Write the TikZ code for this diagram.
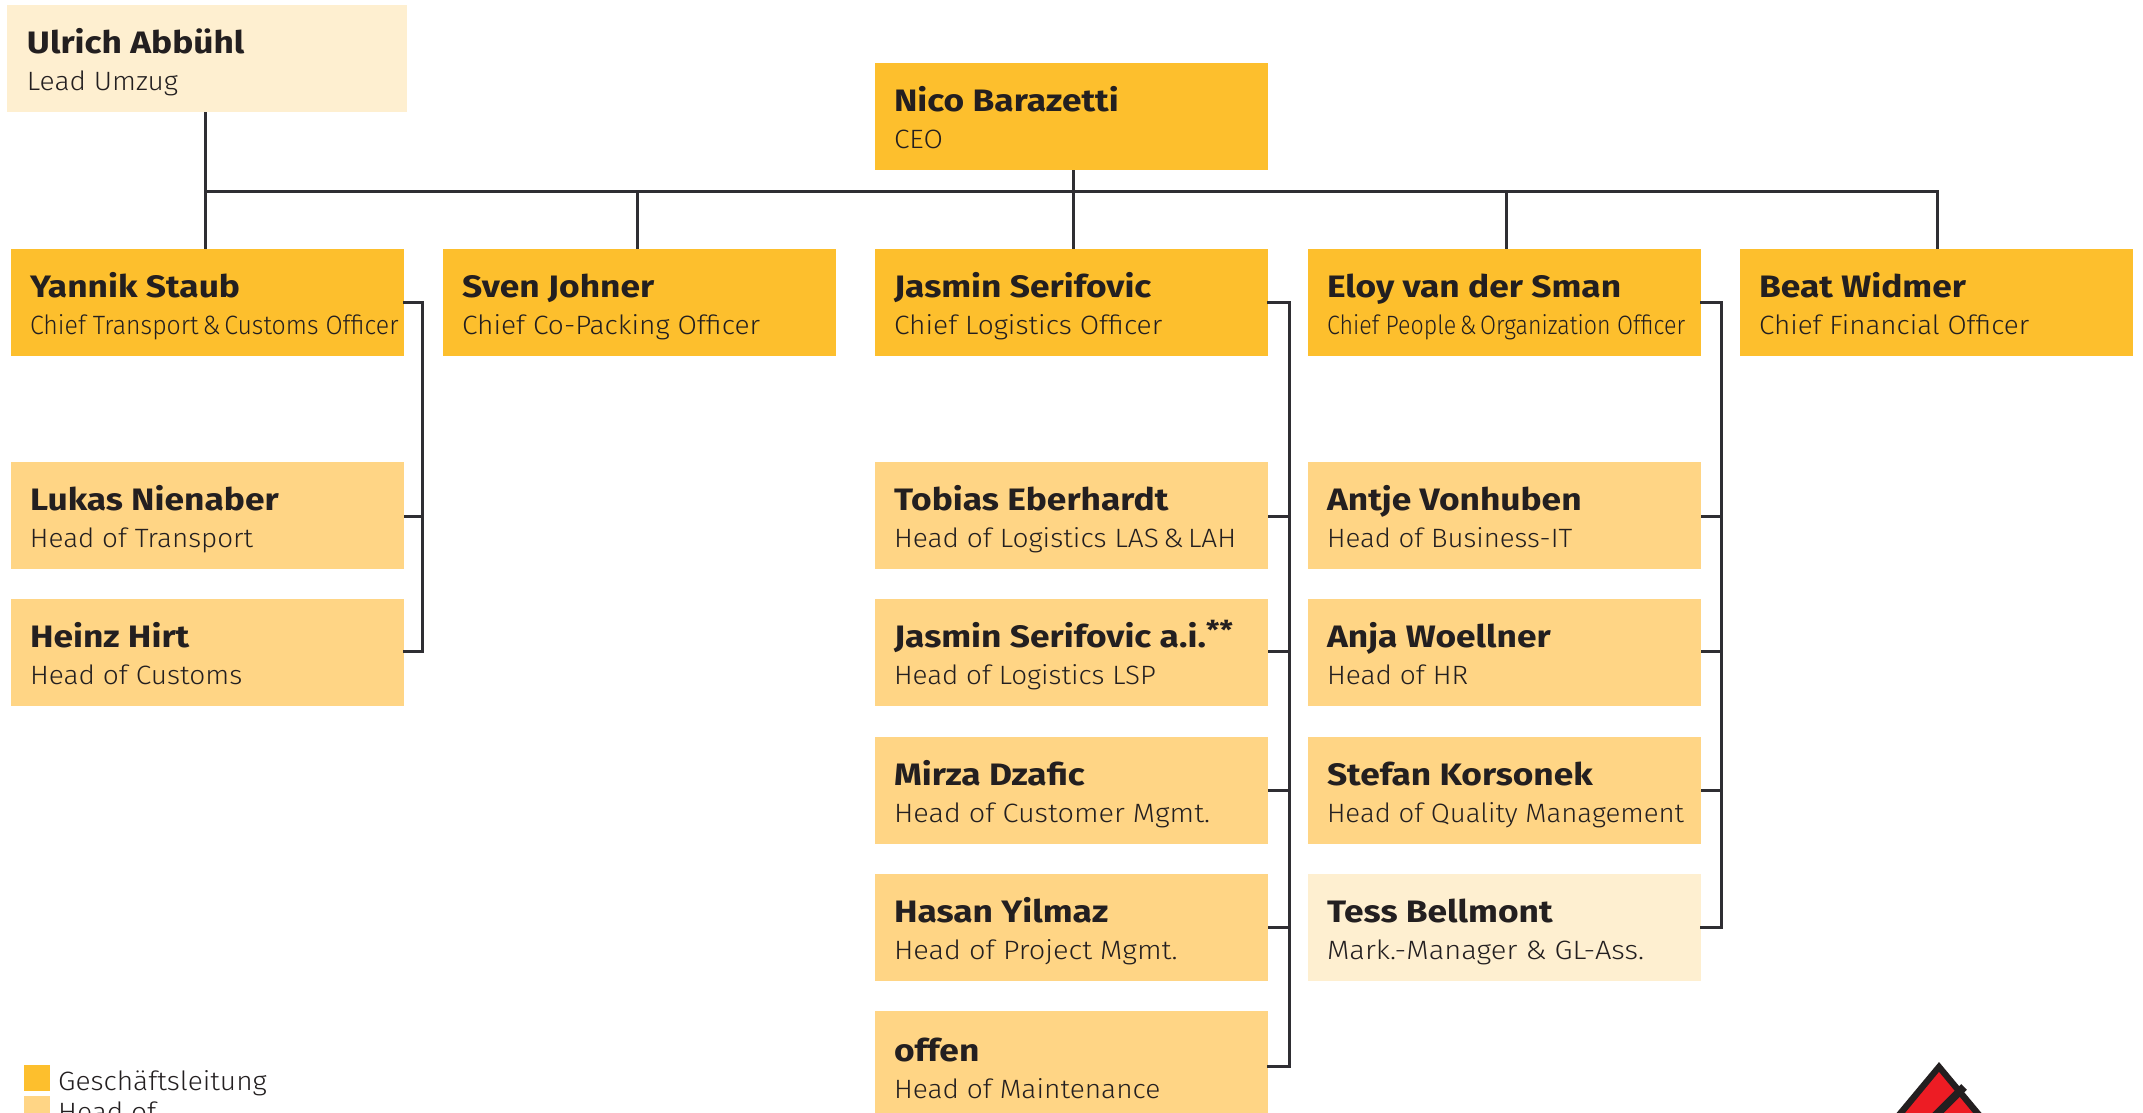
\documentclass[tikz,border=0pt]{standalone}
\usepackage{fontspec}
\setmainfont{Fira Sans Light}[FakeStretch=1.06,BoldFont={Fira Sans Bold},BoldFeatures={FakeStretch=1.14}]
\definecolor{gl}{HTML}{FDBF2D}
\definecolor{hd}{HTML}{FFD585}
\definecolor{pale}{HTML}{FEEFD0}
\definecolor{ink}{HTML}{231F20}
\definecolor{wire}{HTML}{2F2E33}
\definecolor{logored}{HTML}{ED1C24}
\newcommand{\namefont}{\fontsize{31}{31}\selectfont\bfseries}
\newcommand{\subfont}{\fontsize{26.5}{26.5}\selectfont}
\newcommand{\pcard}[4][19]{\vbox to 107pt{\hsize=#2pt\parindent=0pt\offinterlineskip
  \hbox to #2pt{\hfil}\kern48pt\hbox{\kern#1pt\smash{\namefont #3}}\kern37pt\hbox{\kern#1pt\smash{\subfont #4}}\vss}}
\newcommand{\sx}[2]{\scalebox{#1}[1]{#2}}
\tikzset{
  card/.style={inner sep=0pt,outer sep=0pt,anchor=north west,text=ink},
  glbox/.style={card,fill=gl},
  hdbox/.style={card,fill=hd},
  palebox/.style={card,fill=pale},
  wireline/.style={draw=wire,line width=3pt},
  swatch/.style={inner sep=0pt,outer sep=0pt,minimum size=26pt,anchor=north west},
  legendtext/.style={inner sep=0pt,anchor=base west,text=ink,font=\fontsize{26.5}{26.5}\selectfont}
}
\begin{document}
\begin{tikzpicture}[x=1pt,y=-1pt]
\clip (0,0) rectangle (2143,1112);
\fill[white] (0,0) rectangle (2143,1112);
% top cards
\node[palebox] (ulrich) at (7,5) {\pcard[20]{400}{Ulrich Abbühl}{Lead Umzug}};
\node[glbox] (ceo) at (875,63) {\pcard{393}{Nico Barazetti}{CEO}};
\node[glbox] (yannik) at (11,249) {\pcard{393}{Yannik Staub}{\sx{0.885}{Chief Transport\,\&\,Customs Officer}}};
\node[glbox] (sven) at (443,249) {\pcard{393}{Sven Johner}{Chief Co-Packing Officer}};
\node[glbox] (jasmin) at (875,249) {\pcard{393}{Jasmin Serifovic}{Chief Logistics Officer}};
\node[glbox] (eloy) at (1308,249) {\pcard{393}{Eloy van der Sman}{\sx{0.825}{Chief People\,\&\,Organization Officer}}};
\node[glbox] (beat) at (1740,249) {\pcard{393}{Beat Widmer}{\sx{0.99}{Chief Financial Officer}}};
% heads
\node[hdbox] (lukas) at (11,462) {\pcard{393}{Lukas Nienaber}{\sx{0.99}{Head of Transport}}};
\node[hdbox] (heinz) at (11,599) {\pcard{393}{Heinz Hirt}{Head of Customs}};
\node[hdbox] (tobias) at (875,462) {\pcard{393}{Tobias Eberhardt}{Head of Logistics LAS\,\&\,LAH}};
\node[hdbox] (jasminai) at (875,599) {\pcard{393}{Jasmin Serifovic a.i.\raisebox{8pt}{\fontsize{26}{26}\selectfont **}}{\sx{0.99}{Head of Logistics LSP}}};
\node[hdbox] (mirza) at (875,737) {\pcard{393}{Mirza Dzafic}{\sx{1.027}{Head of Customer Mgmt.}}};
\node[hdbox] (hasan) at (875,874) {\pcard{393}{Hasan Yilmaz}{\sx{1.03}{Head of Project Mgmt.}}};
\node[hdbox] (offen) at (875,1011) {\pcard{393}{\raisebox{-2pt}{offen}}{\raisebox{-2pt}{Head of Maintenance}}};
\node[hdbox] (antje) at (1308,462) {\pcard{393}{Antje Vonhuben}{\sx{0.983}{Head of Business-IT}}};
\node[hdbox] (anja) at (1308,599) {\pcard{393}{Anja Woellner}{Head of HR}};
\node[hdbox] (stefan) at (1308,737) {\pcard{393}{Stefan Korsonek}{\sx{0.981}{Head of Quality Management}}};
\node[palebox] (tess) at (1308,874) {\pcard{393}{Tess Bellmont}{\sx{1.036}{Mark.-Manager \& GL-Ass.}}};
% top bus
\coordinate (busA) at (205.5,191);
\coordinate (busB) at (637,191);
\coordinate (busC) at (1073,191);
\coordinate (busD) at (1506,191);
\coordinate (busE) at (1937,191);
\draw[wireline] (busA |- ulrich.south) -- (busA |- yannik.north);
\draw[wireline] (busA) -- (busE) -- (busE |- beat.north);
\draw[wireline] (busB) -- (busB |- sven.north);
\draw[wireline] (busC |- ceo.south) -- (busC |- jasmin.north);
\draw[wireline] (busD) -- (busD |- eloy.north);
% side buses
\coordinate (sideY) at (422,0);
\coordinate (sideJ) at (1289,0);
\coordinate (sideE) at (1721,0);
\draw[wireline,line cap=rect] ([yshift=1.5pt]heinz.east) -- ([yshift=1.5pt]heinz.east -| sideY) -- (yannik.east -| sideY) -- (yannik.east);
\draw[wireline] ([yshift=-1.2pt]lukas.east) -- ([yshift=-1.2pt]lukas.east -| sideY);
\draw[wireline,line cap=rect] ([yshift=-1.5pt]offen.east) -- ([yshift=-1.5pt]offen.east -| sideJ) -- (jasmin.east -| sideJ) -- (jasmin.east);
\draw[wireline] ([yshift=-1.2pt]tobias.east) -- ([yshift=-1.2pt]tobias.east -| sideJ);
\draw[wireline] ([yshift=1.5pt]jasminai.east) -- ([yshift=1.5pt]jasminai.east -| sideJ);
\draw[wireline] (mirza.east) -- (mirza.east -| sideJ);
\draw[wireline] (hasan.east) -- (hasan.east -| sideJ);
\draw[wireline,line cap=rect] (tess.east) -- (tess.east -| sideE) -- (eloy.east -| sideE) -- (eloy.east);
\draw[wireline] ([yshift=-1.2pt]antje.east) -- ([yshift=-1.2pt]antje.east -| sideE);
\draw[wireline] ([yshift=1.5pt]anja.east) -- ([yshift=1.5pt]anja.east -| sideE);
\draw[wireline] (stefan.east) -- (stefan.east -| sideE);
% legend
\node[swatch,fill=gl] (legA) at (24,1065) {};
\node[swatch,fill=hd] (legB) at (24,1096) {};
\node[legendtext] (legAt) at (58,1090) {Geschäftsleitung};
\node[legendtext] (legBt) at (58,1121) {Head of};
% logo
\fill[ink] (1939,1062) -- (1989,1122) -- (1889,1122) -- cycle;
\fill[logored] (1939,1072) -- (1982,1124) -- (1896,1124) -- cycle;
\draw[ink,line width=8pt] (1964,1087) -- (1924,1127);
\end{tikzpicture}
\end{document}
